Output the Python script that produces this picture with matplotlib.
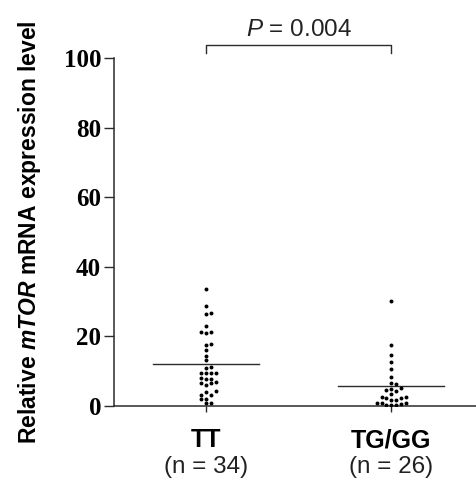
"""Dot plot of relative mTOR mRNA expression by genotype."""

import matplotlib

matplotlib.use("Agg")
import matplotlib.pyplot as plt
import numpy as np

plt.rcParams["font.family"] = ["Liberation Sans", "DejaVu Sans"]
plt.rcParams["mathtext.fontset"] = "custom"
plt.rcParams["mathtext.rm"] = "Liberation Sans"
plt.rcParams["mathtext.it"] = "Liberation Sans:italic"
plt.rcParams["mathtext.bf"] = "Liberation Sans:bold"
plt.rcParams["mathtext.bfit"] = "Liberation Sans:bold:italic"

GROUPS = ["TT", "TG/GG"]
COUNTS = ["(n = 34)", "(n = 26)"]
TT_VALUES = [
    33.6, 28.8, 26.8, 26.4, 22.9, 21.4, 21.2, 21.0, 17.8, 17.6, 16.0, 14.5,
    13.1, 11.3, 10.8, 9.6, 9.5, 9.5, 9.4, 8.1, 7.9, 7.7, 6.9, 6.6, 6.6, 5.9,
    4.2, 4.0, 3.2, 3.1, 2.1, 1.9, 0.9, 0.8,
]
TG_GG_VALUES = [
    30.2, 17.5, 14.7, 12.7, 10.5, 8.4, 6.7, 6.2, 5.3, 5.0, 4.5, 4.4, 3.5,
    2.7, 2.7, 2.2, 2.2, 1.6, 1.6, 0.9, 0.9, 0.9, 0.5, 0.3, 0.3, 0.3,
]
Y_TICKS = [0, 20, 40, 60, 80, 100]
P_TEXT = "$\\mathit{P}$ = 0.004"

INK = "#2b2b2b"


def swarm_offsets(values, step=0.026, gap=1.25):
    """Spread close values sideways on a small grid, like a beeswarm."""
    values = np.asarray(values)
    offsets = np.zeros(len(values))
    placed = []
    for i in np.argsort(values):
        for k in [0, 1, -1, 2, -2, 3, -3, 4, -4]:
            x = k * step
            clash = any(abs(values[i] - pv) < gap and abs(x - px) < step * 0.9
                        for pv, px in placed)
            if not clash:
                break
        offsets[i] = x
        placed.append((values[i], x))
    return offsets


def main():
    fig = plt.figure(figsize=(4.77, 4.86), dpi=100)
    ax = fig.add_axes([0.238, 0.1646, 0.776, 0.716])

    for pos, vals in enumerate([TT_VALUES, TG_GG_VALUES], start=1):
        xs = pos + swarm_offsets(vals)
        ax.scatter(xs, vals, s=8, color="black", linewidths=0, zorder=3)
        mean = np.mean(vals)
        ax.plot([pos - 0.287, pos + 0.287], [mean, mean], color=INK, lw=1.0, zorder=2)

    ax.set_xlim(0.5, 2.5)
    ax.set_ylim(0, 100)
    ax.set_yticks(Y_TICKS)
    ax.set_yticklabels([str(t) for t in Y_TICKS], family="Liberation Serif",
                       fontweight="bold", fontsize=18)
    ax.set_xticks([1, 2])
    ax.set_xticklabels(GROUPS, fontweight="bold", fontsize=18)
    ax.tick_params(axis="y", length=7, width=1.0, color=INK, pad=2)
    ax.tick_params(axis="x", length=4, width=1.0, color=INK, pad=12)

    for side in ["top", "right"]:
        ax.spines[side].set_visible(False)
    for side in ["left", "bottom"]:
        ax.spines[side].set_color(INK)
        ax.spines[side].set_linewidth(1.1)

    for pos, label in enumerate(COUNTS, start=1):
        ax.annotate(label, (pos, 0), xycoords=("data", "axes fraction"),
                    xytext=(0, -44), textcoords="offset points",
                    ha="center", va="center", fontsize=17.5, color="#222222")

    ax.set_ylabel("Relative $\\mathbfit{mTOR}$ mRNA expression level",
                  fontsize=16.5, fontweight="bold", labelpad=15)

    ax.plot([1, 1, 2, 2], [101.4, 103.7, 103.7, 101.4], color=INK, lw=1.0,
            clip_on=False)
    ax.text(1.5, 108.0, P_TEXT, ha="center", va="center", fontsize=17.5,
            color="#222222")

    fig.savefig("out.png", dpi=100, facecolor="white")
    plt.close(fig)


if __name__ == "__main__":
    main()
